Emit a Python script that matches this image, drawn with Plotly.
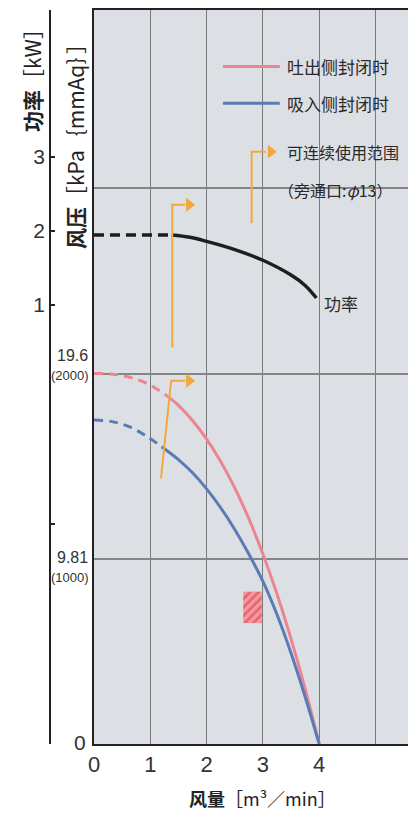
import plotly.graph_objects as go

# ---------------- data ----------------
flow_tick_vals = [0, 1, 2, 3, 4, 5]
flow_tick_text = ["0", "1", "2", "3", "4", ""]
pressure_grid = [9.81, 19.6, 29.42]
power_tick_vals = [-4.93, -1.96, 1, 2, 3]
power_tick_text = ["", "", "1", "2", "3"]

# discharge side closed (red)
dis_flow_dash = [0, 0.3, 0.6, 0.9, 1.17, 1.35]
dis_p_dash = [19.6, 19.58, 19.43, 19.13, 18.68, 18.3]
dis_flow = [1.35, 1.5, 1.75, 2.0, 2.25, 2.5, 2.75, 3.0, 3.25, 3.5, 3.75, 4.0]
dis_p = [18.3, 17.92, 17.12, 16.13, 14.95, 13.55, 11.92, 10.05, 7.94, 5.56, 2.92, 0]

# suction side closed (blue)
suc_flow_dash = [0, 0.3, 0.6, 0.9, 1.2]
suc_p_dash = [17.14, 17.07, 16.82, 16.35, 15.73]
suc_flow = [1.2, 1.5, 1.75, 2.0, 2.25, 2.5, 2.75, 3.0, 3.25, 3.5, 3.75, 4.0]
suc_p = [15.73, 15.05, 14.35, 13.5, 12.5, 11.35, 10.05, 8.6, 6.85, 4.8, 2.5, 0]

# power
pow_flow_dash = [0, 1.38]
pow_kw_dash = [1.94, 1.94]
pow_flow = [1.38, 1.7, 2.0, 2.5, 3.0, 3.5, 3.75, 3.95]
pow_kw = [1.94, 1.91, 1.855, 1.745, 1.60, 1.40, 1.26, 1.09]

# continuous-use range markers
range_pow_flow = [1.39, 1.39, 1.62]
range_pow_kw = [0.42, 2.35, 2.35]
range_p_flow = [1.19, 1.37, 1.62]
range_p_val = [14.06, 19.22, 19.22]
arrow_flow = 1.69

# hatched area
hatch_flow = [2.65, 2.98]
hatch_p = [6.4, 8.06]

# legend symbol positions
leg_line_x = [2.29, 3.30]
leg_red_y = 35.84
leg_blue_y = 33.9
leg_text_x = 3.39
leg_range_x = [2.80, 2.80, 3.05]
leg_range_y = [27.55, 31.34, 31.34]
leg_range_arrow_x = 3.14
leg_range_text_y = 31.3
leg_range_text2_y = 29.3

# pressure labels: value, main, sub, shift main, shift sub
p_labels = [
    (19.6, "19.6", "(2000)", 18, -2),
    (9.81, "9.81", "(1000)", 1, -19),
]

RED = "#ec8592"
BLUE = "#5a7cb6"
BLACK = "#1e1e1e"
ORANGE = "#f3a83a"
CJK = "Noto Sans CJK SC"
NUM = "Liberation Sans Narrow, Liberation Sans, Arial"

fig = go.Figure()

# hatched rectangle
fig.add_trace(go.Scatter(
    x=[hatch_flow[0], hatch_flow[1], hatch_flow[1], hatch_flow[0], hatch_flow[0]],
    y=[hatch_p[0], hatch_p[0], hatch_p[1], hatch_p[1], hatch_p[0]],
    fill="toself", mode="lines", line=dict(width=0, color="#e0404f"),
    fillcolor="#f07a86",
    fillpattern=dict(shape="/", fgcolor="#d8303f", bgcolor="#f59aa3", size=6, solidity=0.45),
    hoverinfo="skip", showlegend=False))

# pressure curves
fig.add_trace(go.Scatter(x=dis_flow_dash, y=dis_p_dash, mode="lines",
                         line=dict(color=RED, width=3, dash="9px,6px", shape="spline"), showlegend=False))
fig.add_trace(go.Scatter(x=dis_flow, y=dis_p, mode="lines",
                         line=dict(color=RED, width=3, shape="spline"), showlegend=False))
fig.add_trace(go.Scatter(x=suc_flow_dash, y=suc_p_dash, mode="lines",
                         line=dict(color=BLUE, width=3, dash="9px,6px", shape="spline"), showlegend=False))
fig.add_trace(go.Scatter(x=suc_flow, y=suc_p, mode="lines",
                         line=dict(color=BLUE, width=3, shape="spline"), showlegend=False))

# power curve (y2)
fig.add_trace(go.Scatter(x=pow_flow_dash, y=pow_kw_dash, mode="lines", yaxis="y2",
                         line=dict(color=BLACK, width=3.5, dash="10px,6px"), showlegend=False))
fig.add_trace(go.Scatter(x=pow_flow, y=pow_kw, mode="lines", yaxis="y2",
                         line=dict(color=BLACK, width=3.5, shape="spline"), showlegend=False))

# range markers
fig.add_trace(go.Scatter(x=range_pow_flow, y=range_pow_kw, mode="lines", yaxis="y2",
                         line=dict(color=ORANGE, width=2), showlegend=False))
fig.add_trace(go.Scatter(x=[arrow_flow], y=[range_pow_kw[-1]], mode="markers", yaxis="y2",
                         marker=dict(symbol="triangle-right", size=12, color=ORANGE), showlegend=False))
fig.add_trace(go.Scatter(x=range_p_flow, y=range_p_val, mode="lines",
                         line=dict(color=ORANGE, width=2), showlegend=False))
fig.add_trace(go.Scatter(x=[arrow_flow], y=[range_p_val[-1]], mode="markers",
                         marker=dict(symbol="triangle-right", size=12, color=ORANGE), showlegend=False))

# legend symbols
fig.add_trace(go.Scatter(x=leg_line_x, y=[leg_red_y] * 2, mode="lines",
                         line=dict(color=RED, width=3), showlegend=False))
fig.add_trace(go.Scatter(x=leg_line_x, y=[leg_blue_y] * 2, mode="lines",
                         line=dict(color=BLUE, width=3), showlegend=False))
fig.add_trace(go.Scatter(x=leg_range_x, y=leg_range_y, mode="lines",
                         line=dict(color=ORANGE, width=2), showlegend=False))
fig.add_trace(go.Scatter(x=[leg_range_arrow_x], y=[leg_range_y[-1]], mode="markers",
                         marker=dict(symbol="triangle-right", size=12, color=ORANGE), showlegend=False))

ann = []
def txt(x, y, s, size, xref="x", yref="y", xanchor="left", **kw):
    d = dict(x=x, y=y, xref=xref, yref=yref, text=s, showarrow=False,
             xanchor=xanchor, yanchor="middle",
             font=dict(family=CJK, size=size, color="#2a2a2a"))
    d.update(kw)
    ann.append(d)

txt(leg_text_x, leg_red_y, "吐出侧封闭时", 17)
txt(leg_text_x, leg_blue_y, "吸入侧封闭时", 17)
txt(leg_text_x, leg_range_text_y, "可连续使用范围", 16)
txt(leg_text_x - 0.15, leg_range_text2_y, "（旁通口:<i>φ</i>13）", 16)
txt(4.05, 1.02, "功率", 17, yref="y2")

X0 = 44 / 358
for v, main, sub, s1, s2 in p_labels:
    ann.append(dict(x=X0, y=v, xref="paper", yref="y", text=main, showarrow=False,
                    xanchor="right", yanchor="middle", xshift=-4, yshift=s1,
                    font=dict(family=NUM, size=16, color="#333")))
    ann.append(dict(x=X0, y=v, xref="paper", yref="y", text=sub, showarrow=False,
                    xanchor="right", yanchor="middle", xshift=-3, yshift=s2,
                    font=dict(family=NUM, size=13, color="#333")))
ann.append(dict(x=X0, y=0, xref="paper", yref="y", text="0", showarrow=False,
                xanchor="right", yanchor="middle", xshift=-6, yshift=2,
                font=dict(family=NUM, size=21, color="#333")))

# axis titles
ann.append(dict(x=(32 - 50) / 358, y=(744 - 75) / 734, xref="paper", yref="paper",
                text="<b>功率</b>［kW］", textangle=-90, showarrow=False,
                xanchor="center", yanchor="middle",
                font=dict(family=CJK, size=21, color="#222")))
ann.append(dict(x=(75 - 50) / 358, y=(744 - 141) / 734, xref="paper", yref="paper",
                text="<b>风压</b>［kPa｛mmAq｝］", textangle=-90, showarrow=False,
                xanchor="center", yanchor="middle",
                font=dict(family=CJK, size=21, color="#222")))
ann.append(dict(x=(262 - 50) / 358, y=(744 - 798) / 734, xref="paper", yref="paper",
                text="<b>风量</b>［m³／min］", showarrow=False,
                xanchor="center", yanchor="middle",
                font=dict(family=CJK, size=18, color="#222")))

fig.update_layout(
    width=408, height=814,
    margin=dict(l=50, r=0, t=10, b=70),
    paper_bgcolor="white", plot_bgcolor="#dcdfe3",
    showlegend=False,
    annotations=ann,
    xaxis=dict(domain=[X0, 1], range=[0, 5.577], tickvals=flow_tick_vals, ticktext=flow_tick_text,
               showgrid=True, gridcolor="#7a7a7a", gridwidth=1.3, zeroline=False,
               showline=True, linecolor="#222", linewidth=2, mirror=True,
               ticks="", ticklabelstandoff=0,
               tickfont=dict(family=NUM, size=22, color="#333"), automargin=False),
    yaxis=dict(range=[0, 38.836], tickvals=pressure_grid, showticklabels=False,
               showgrid=True, gridcolor="#858585", gridwidth=1.6, zeroline=False,
               showline=True, linecolor="#222", linewidth=2, ticks="", automargin=False),
    yaxis2=dict(overlaying="y", anchor="free", position=0, side="left",
                range=[-4.937, 4.982], tickvals=power_tick_vals, ticktext=power_tick_text,
                showgrid=False, zeroline=False, showline=True, linecolor="#222", linewidth=1.5,
                ticks="inside", ticklen=4, tickwidth=1.5, tickcolor="#222",
                tickfont=dict(family=NUM, size=21, color="#333"), automargin=False),
)

fig.write_html("out.html", config={"displayModeBar": False},
               post_script="document.body.style.margin='0px';document.body.style.overflow='hidden';")
